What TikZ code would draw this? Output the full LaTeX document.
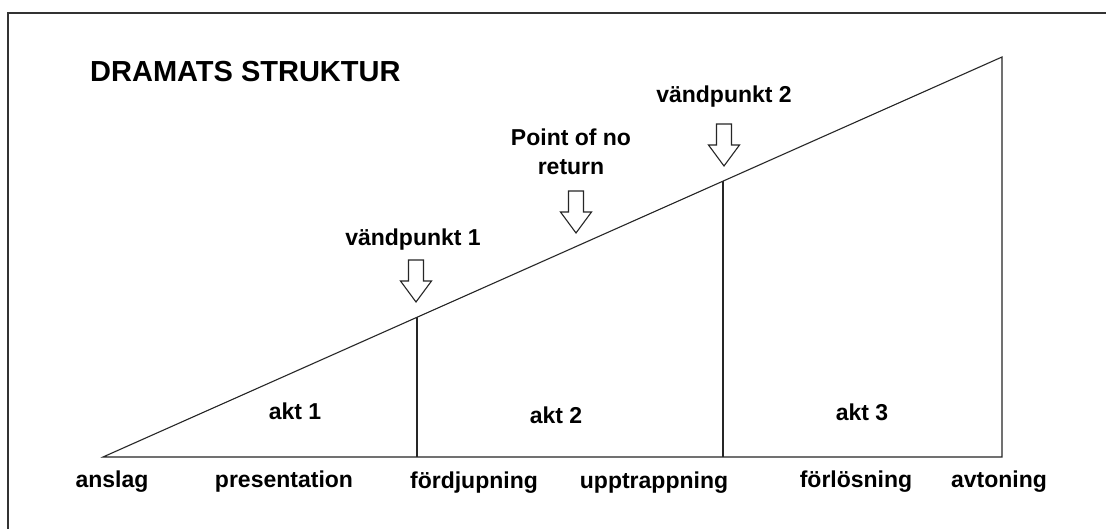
\documentclass[tikz,border=0pt]{standalone}
\usepackage{fontspec}
\setmainfont{Liberation Sans}
\usetikzlibrary{calc}
\tikzset{
  lbl/.style={inner sep=0pt, anchor=base, font=\bfseries\fontsize{23}{27}\selectfont},
  ttl/.style={inner sep=0pt, anchor=base west, font=\bfseries\fontsize{29}{33}\selectfont},
  frameline/.style={draw=black!80, line width=1.5pt},
  mainline/.style={draw=black!85, line width=1.1pt},
  blockarrow/.style={draw=black!85, line width=1.1pt, fill=white, line join=miter}
}
\newcommand{\downblock}[1]{%
  \draw[blockarrow] (#1) -- ++(-15.5,-21) -- ++(8,0) -- ++(0,-21) -- ++(15,0) -- ++(0,21) -- ++(8,0) -- cycle;}
\begin{document}
\begin{tikzpicture}[x=1pt,y=-1pt]
\useasboundingbox (0,0) rectangle (1106,529);
\fill[white] (0,0) rectangle (1106,529);
% frame (only top and left visible)
\coordinate (fbl) at (8,535);
\coordinate (ftr) at (1110,13);
\draw[frameline] (fbl) |- (ftr);
% title
\node[ttl] (title) at (90,82) {DRAMATS STRUKTUR};
% triangle
\coordinate (A) at (103,457);
\coordinate (B) at (1002,457);
\coordinate (C) at (1002,57);
\draw[mainline] (A) -- (B) -- (C) -- cycle;
\coordinate (v1t) at ($(A)!0.3493!(C)$);
\coordinate (v2t) at ($(A)!0.6897!(C)$);
\coordinate (v1b) at (v1t |- A);
\coordinate (v2b) at (v2t |- A);
\draw[mainline] (v1t) -- (v1b);
\draw[mainline] (v2t) -- (v2b);
% block arrows
\coordinate (t1) at (416,302);
\coordinate (t2) at (576,233);
\coordinate (t3) at (724,166);
\downblock{t1}
\downblock{t2}
\downblock{t3}
% top labels
\node[lbl] (vp1) at (413,246) {vändpunkt 1};
\node[lbl] (pnr1) at (571,146) {Point of no};
\node[lbl] (pnr2) at (571,175) {return};
\node[lbl] (vp2) at (724,103) {vändpunkt 2};
% act labels
\node[lbl] (akt1) at (295,419) {akt 1};
\node[lbl] (akt2) at (556,423) {akt 2};
\node[lbl] (akt3) at (862,420) {akt 3};
% bottom labels
\node[lbl] (l1) at (112,487) {anslag};
\node[lbl] (l2) at (284,487) {presentation};
\node[lbl] (l3) at (474,488) {fördjupning};
\node[lbl] (l4) at (654,488) {upptrappning};
\node[lbl] (l5) at (856,487) {förlösning};
\node[lbl] (l6) at (999,487) {avtoning};
\end{tikzpicture}
\end{document}
